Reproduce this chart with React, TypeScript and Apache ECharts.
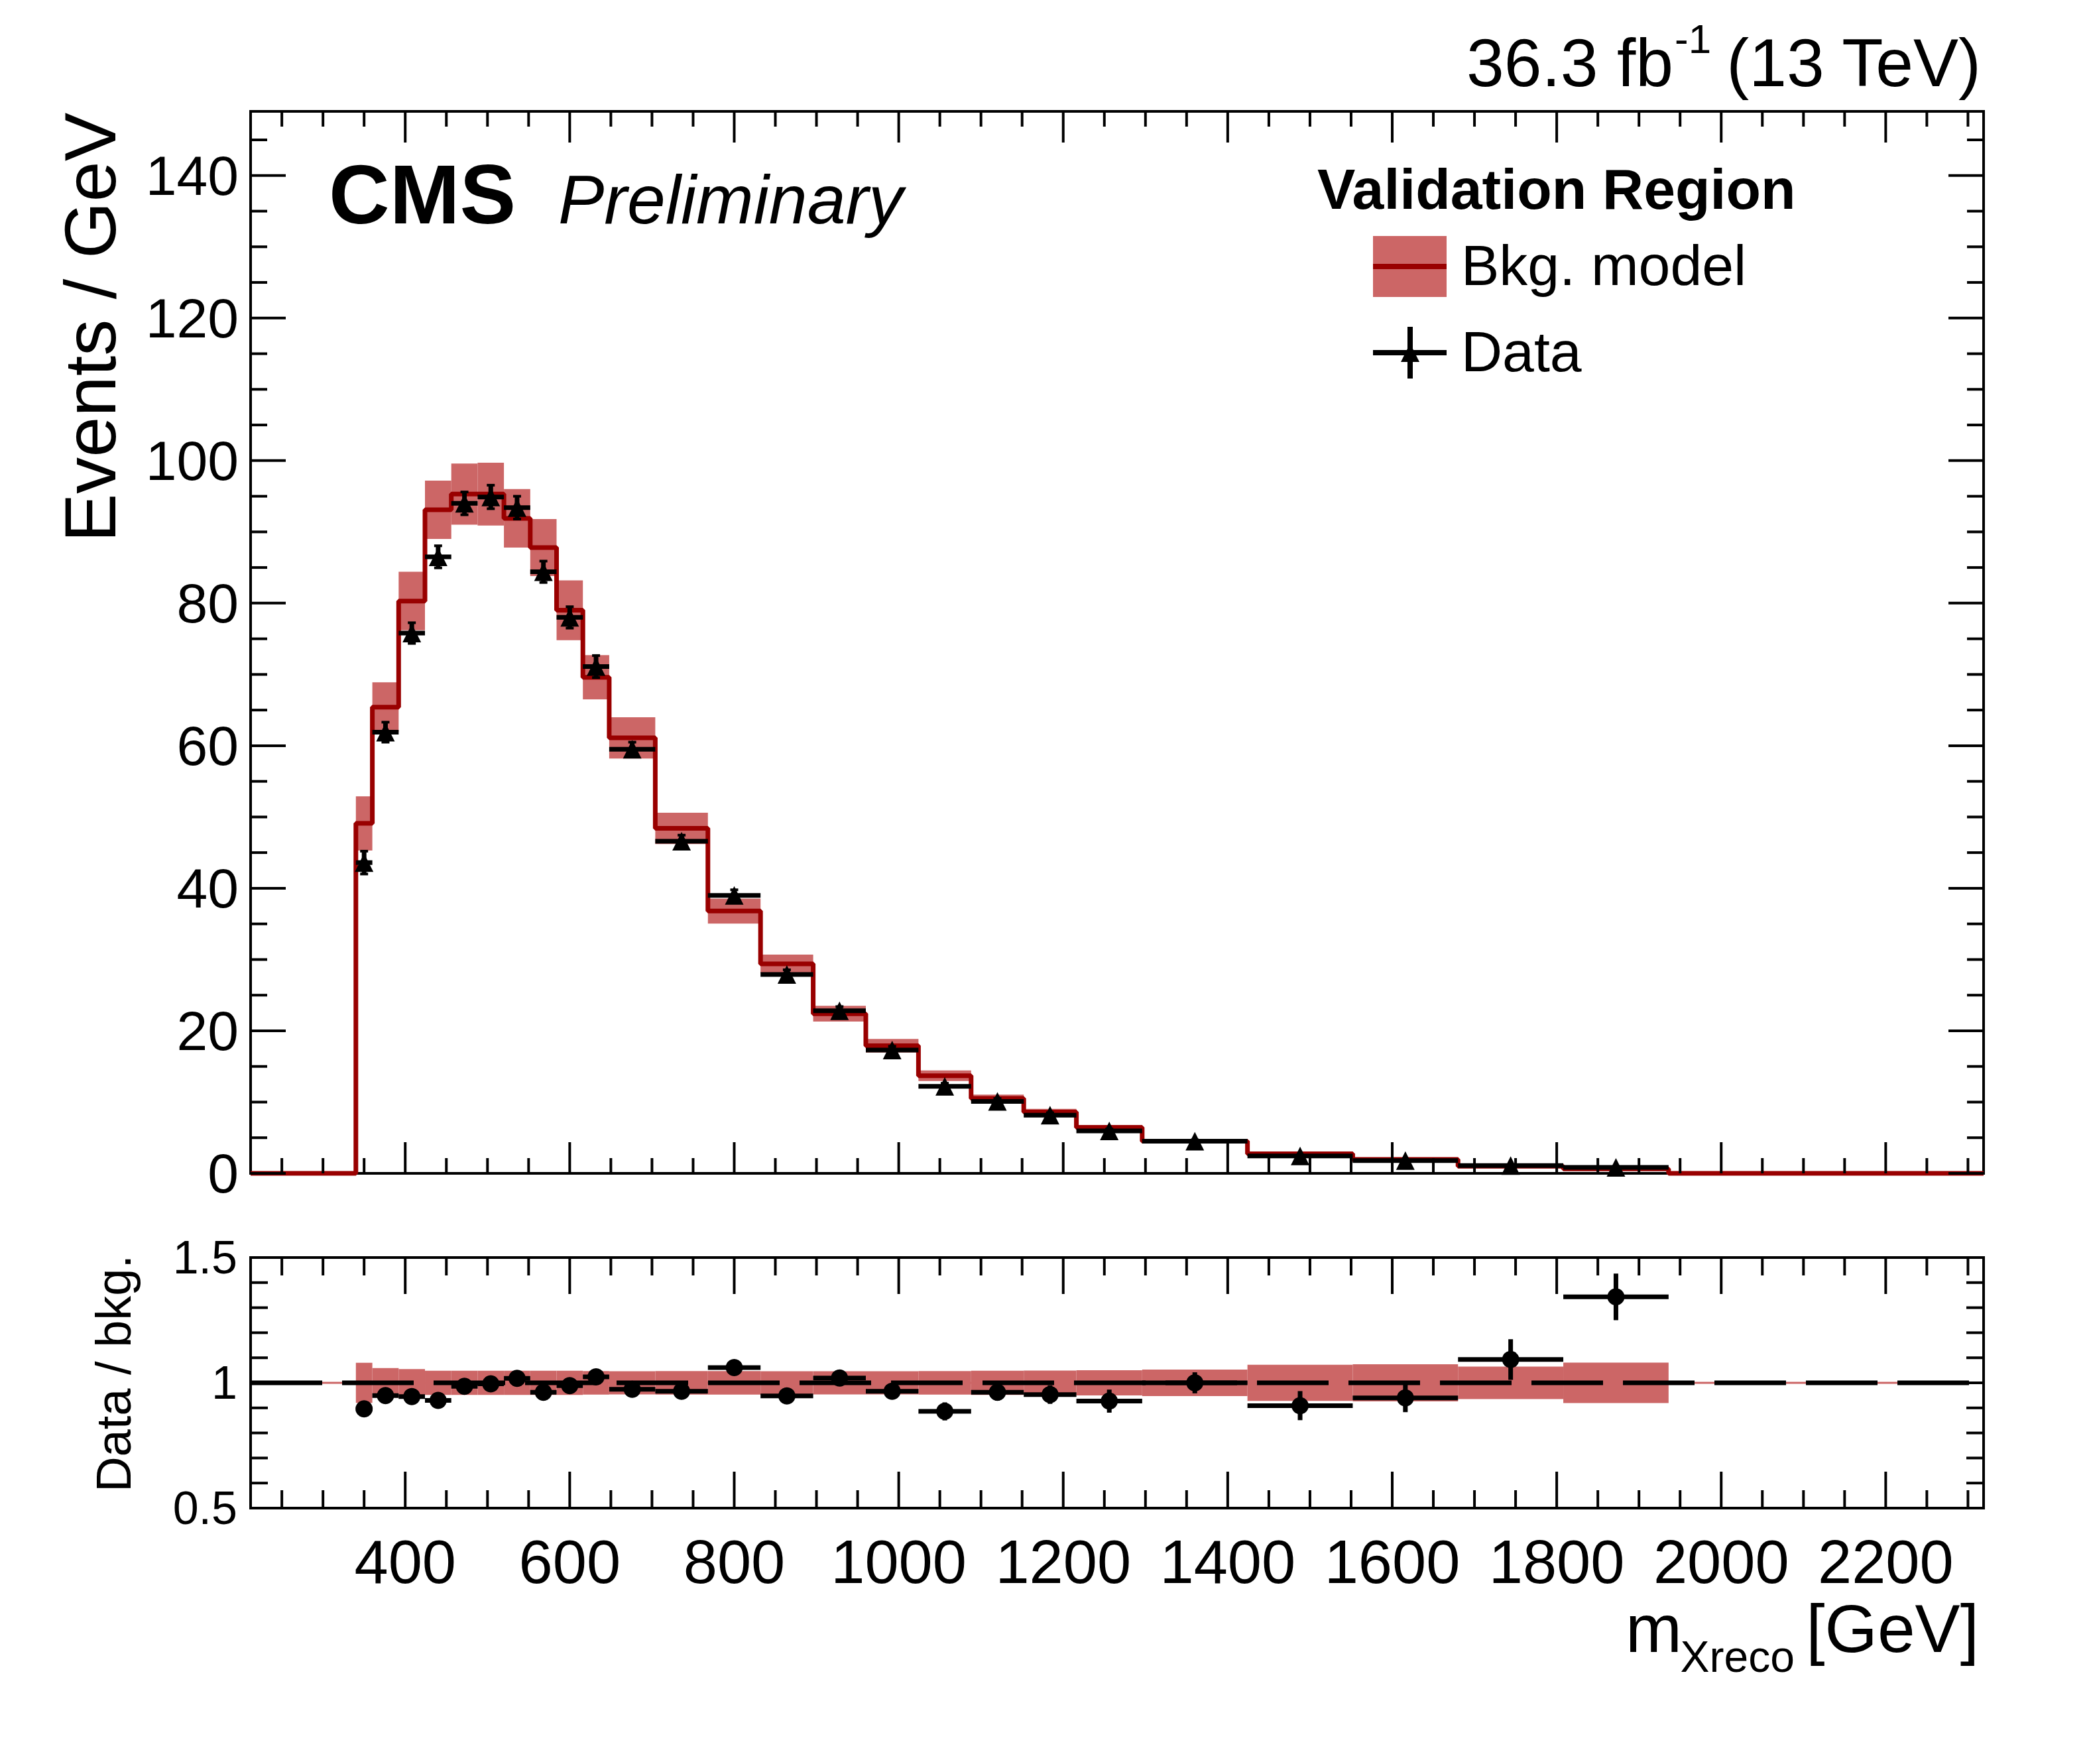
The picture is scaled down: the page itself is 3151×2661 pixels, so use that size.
import React, { useEffect, useRef } from 'react';
import * as echarts from 'echarts';

// bin edges of m_Xreco [GeV]
const binEdges = [340, 360, 392, 424, 456, 488, 520, 552, 584, 616, 648, 704, 768, 832, 896, 960, 1024, 1088, 1152, 1216, 1296, 1424, 1552, 1680, 1808, 1936];
// background model (events / GeV) and its uncertainty
const bkgModel = [49.1, 65.4, 80.3, 93.1, 95.3, 95.3, 91.9, 87.8, 79.0, 69.6, 61.1, 48.4, 36.8, 29.4, 22.4, 17.9, 13.7, 10.5, 8.6, 6.45, 4.5, 2.75, 1.95, 1.0, 0.62];
const bkgUnc = [3.8, 3.5, 4.1, 4.1, 4.3, 4.4, 4.1, 4.0, 4.2, 3.1, 2.9, 2.2, 1.75, 1.3, 1.1, 0.95, 0.75, 0.55, 0.45, 0.33, 0.24, 0.19, 0.14, 0.07, 0.05];
// data (events / GeV) and stat. errors
const dataValues = [43.6, 61.9, 75.8, 86.5, 94.0, 94.9, 93.4, 84.4, 78.0, 71.1, 59.5, 46.6, 39.0, 27.9, 22.8, 17.3, 12.2, 10.1, 8.15, 5.95, 4.5, 2.45, 1.8, 1.1, 0.83];
const dataErrors = [1.6, 1.4, 1.45, 1.55, 1.6, 1.65, 1.6, 1.5, 1.5, 1.55, 1.0, 0.85, 0.78, 0.66, 0.6, 0.52, 0.44, 0.4, 0.36, 0.27, 0.19, 0.14, 0.12, 0.09, 0.08];
// ratio panel
const ratioValues = [0.896, 0.949, 0.945, 0.93, 0.986, 0.996, 1.018, 0.962, 0.989, 1.024, 0.974, 0.966, 1.061, 0.948, 1.019, 0.966, 0.886, 0.962, 0.953, 0.927, 1.0, 0.909, 0.94, 1.093, 1.343];
const ratioErrors = [0.03, 0.022, 0.02, 0.018, 0.018, 0.018, 0.018, 0.018, 0.019, 0.021, 0.017, 0.018, 0.021, 0.024, 0.026, 0.03, 0.036, 0.033, 0.037, 0.046, 0.042, 0.058, 0.057, 0.081, 0.093];
const ratioUnc = [0.08, 0.059, 0.055, 0.048, 0.048, 0.048, 0.048, 0.048, 0.048, 0.047, 0.046, 0.047, 0.047, 0.046, 0.046, 0.046, 0.047, 0.048, 0.049, 0.05, 0.053, 0.072, 0.074, 0.065, 0.081];

// tick labels
const xTickLabels = [400, 600, 800, 1000, 1200, 1400, 1600, 1800, 2000, 2200];
const yTickLabels = [0, 20, 40, 60, 80, 100, 120, 140];
const ratioTickLabels = [0.5, 1, 1.5];

const X_MIN = 212;
const X_MAX = 2319;
const Y_MAX = 149;
const FONT = '"Liberation Sans", Arial, Helvetica, sans-serif';
const BAND = '#cc6666';
const LINE = '#990000';

const buildTicks = (majors: number[], start: number, end: number, step: number) => {
  const out: number[][] = majors.map((v) => [v, 1]);
  for (let v = start; v <= end + 1e-9; v += step) {
    const r = Math.round(v * 1000) / 1000;
    if (!majors.some((m) => Math.abs(m - r) < 1e-6)) out.push([r, 0]);
  }
  return out;
};

const txt = (text: string, x: number, y: number, size: number, align: string, extra: any = {}) => ({
  type: 'text',
  x,
  y,
  rotation: extra.rotation || 0,
  silent: true,
  style: {
    text,
    fill: '#000',
    fontSize: size,
    fontFamily: FONT,
    fontWeight: extra.weight || 'normal',
    fontStyle: extra.style || 'normal',
    align,
    textAlign: align,
    verticalAlign: 'middle',
    textVerticalAlign: 'middle',
  },
});

type TickCfg = {
  axis: 'x' | 'y';
  majorLen: number;
  minorLen: number;
  labels: number[];
  fontSize: number;
  labelOffset: number;
};

const tickSeries = (gridIndex: number, ticks: number[][], cfg: TickCfg) => ({
  type: 'custom',
  xAxisIndex: gridIndex,
  yAxisIndex: gridIndex,
  z: 10,
  silent: true,
  clip: false,
  encode: cfg.axis === 'x' ? { x: 0, y: 1 } : { y: 0, x: 1 },
  data: ticks,
  renderItem: (params: any, api: any) => {
    const cs = params.coordSys;
    const v = api.value(0);
    const major = api.value(1) === 1;
    const len = major ? cfg.majorLen : cfg.minorLen;
    const st = { stroke: '#000', lineWidth: 4 };
    const children: any[] = [];
    if (cfg.axis === 'x') {
      const px = api.coord([v, 1])[0];
      const bottom = cs.y + cs.height;
      children.push({ type: 'line', shape: { x1: px, y1: bottom, x2: px, y2: bottom - len }, style: st });
      children.push({ type: 'line', shape: { x1: px, y1: cs.y, x2: px, y2: cs.y + len }, style: st });
      if (major && cfg.labels.includes(v)) {
        children.push(txt(String(v), px, bottom + cfg.labelOffset, cfg.fontSize, 'center'));
      }
    } else {
      const py = api.coord([1000, v])[1];
      const right = cs.x + cs.width;
      children.push({ type: 'line', shape: { x1: cs.x, y1: py, x2: cs.x + len, y2: py }, style: st });
      children.push({ type: 'line', shape: { x1: right, y1: py, x2: right - len, y2: py }, style: st });
      if (major && cfg.labels.includes(v)) {
        children.push(txt(String(v), cs.x - cfg.labelOffset, py, cfg.fontSize, 'right'));
      }
    }
    return { type: 'group', children };
  },
});

const renderBand = (_params: any, api: any) => {
  const p0 = api.coord([api.value(0), api.value(3)]);
  const p1 = api.coord([api.value(1), api.value(2)]);
  return {
    type: 'rect',
    shape: { x: p0[0], y: p0[1], width: p1[0] - p0[0], height: p1[1] - p0[1] },
    style: { fill: BAND },
  };
};

const renderPoints = (marker: 'triangle' | 'circle') => (_params: any, api: any) => {
  const lo = api.value(0);
  const hi = api.value(1);
  const v = api.value(2);
  const e = api.value(3);
  const c = (lo + hi) / 2;
  const [xl, y] = api.coord([lo, v]);
  const [xh] = api.coord([hi, v]);
  const [xc, yTop] = api.coord([c, v + e]);
  const yBot = api.coord([c, v - e])[1];
  const st = { stroke: '#000', lineWidth: 7 };
  const children: any[] = [
    { type: 'line', shape: { x1: xl, y1: y, x2: xh, y2: y }, style: st },
    { type: 'line', shape: { x1: xc, y1: yTop, x2: xc, y2: yBot }, style: st },
  ];
  if (marker === 'triangle') {
    const cap = { stroke: '#000', lineWidth: 4 };
    children.push({ type: 'line', shape: { x1: xc - 6, y1: yTop, x2: xc + 6, y2: yTop }, style: cap });
    children.push({ type: 'line', shape: { x1: xc - 6, y1: yBot, x2: xc + 6, y2: yBot }, style: cap });
    children.push({
      type: 'polygon',
      shape: { points: [[xc - 14, y + 14], [xc + 14, y + 14], [xc, y - 14]] },
      style: { fill: '#000' },
    });
  } else {
    children.push({ type: 'circle', shape: { cx: xc, cy: y, r: 13 }, style: { fill: '#000' } });
  }
  return { type: 'group', children };
};

const App: React.FC = () => {
  const chartRef = useRef<HTMLDivElement>(null);

  useEffect(() => {
    const chart = echarts.init(chartRef.current as HTMLDivElement, undefined, { renderer: 'svg' });

    const bandData = bkgModel.map((b, i) => [binEdges[i], binEdges[i + 1], b - bkgUnc[i], b + bkgUnc[i]]);
    const stepData = [
      [X_MIN, 0],
      ...bkgModel.map((b, i) => [binEdges[i], b]),
      [binEdges[binEdges.length - 1], 0],
      [X_MAX, 0],
    ];
    const pointData = dataValues.map((d, i) => [binEdges[i], binEdges[i + 1], d, dataErrors[i]]);
    const ratioBandData = ratioUnc.map((u, i) => [binEdges[i], binEdges[i + 1], 1 - u, 1 + u]);
    const ratioPointData = ratioValues.map((r, i) => [binEdges[i], binEdges[i + 1], r, ratioErrors[i]]);

    const xTicks = buildTicks(xTickLabels, 250, 2300, 50);
    const yTicks = buildTicks(yTickLabels, 5, 145, 5);
    const rTicks = buildTicks(ratioTickLabels, 0.6, 1.4, 0.1);

    const option: any = {
      animation: false,
      backgroundColor: '#fff',
      textStyle: { fontFamily: FONT },
      grid: [
        { left: 378, top: 168, width: 2614, height: 1602, show: true, borderColor: '#000', borderWidth: 4, backgroundColor: 'transparent' },
        { left: 378, top: 1897, width: 2614, height: 378, show: true, borderColor: '#000', borderWidth: 4, backgroundColor: 'transparent' },
      ],
      xAxis: [
        { type: 'value', gridIndex: 0, min: X_MIN, max: X_MAX, show: false },
        { type: 'value', gridIndex: 1, min: X_MIN, max: X_MAX, show: false },
      ],
      yAxis: [
        { type: 'value', gridIndex: 0, min: 0, max: Y_MAX, show: false },
        { type: 'value', gridIndex: 1, min: 0.5, max: 1.5, show: false },
      ],
      series: [
        {
          name: 'Bkg. model uncertainty',
          type: 'custom',
          xAxisIndex: 0,
          yAxisIndex: 0,
          z: 2,
          silent: true,
          encode: { x: [0, 1], y: [2, 3] },
          data: bandData,
          renderItem: renderBand,
        },
        {
          name: 'Bkg. model',
          type: 'line',
          xAxisIndex: 0,
          yAxisIndex: 0,
          step: 'end',
          symbol: 'none',
          clip: false,
          z: 3,
          silent: true,
          lineStyle: { color: LINE, width: 7 },
          data: stepData,
        },
        {
          name: 'Data',
          type: 'custom',
          xAxisIndex: 0,
          yAxisIndex: 0,
          z: 5,
          silent: true,
          encode: { x: [0, 1], y: 2 },
          data: pointData,
          renderItem: renderPoints('triangle'),
        },
        {
          name: 'Ratio uncertainty',
          type: 'custom',
          xAxisIndex: 1,
          yAxisIndex: 1,
          z: 2,
          silent: true,
          encode: { x: [0, 1], y: [2, 3] },
          data: ratioBandData,
          renderItem: renderBand,
        },
        {
          name: 'Ratio band line',
          type: 'line',
          xAxisIndex: 1,
          yAxisIndex: 1,
          symbol: 'none',
          z: 3,
          silent: true,
          lineStyle: { color: BAND, width: 3 },
          data: [[X_MIN, 1], [X_MAX, 1]],
        },
        {
          name: 'Unity',
          type: 'line',
          xAxisIndex: 1,
          yAxisIndex: 1,
          symbol: 'none',
          z: 4,
          silent: true,
          lineStyle: { color: '#000', width: 7, type: [108, 30] },
          data: [[X_MIN, 1], [X_MAX, 1]],
        },
        {
          name: 'Data / bkg.',
          type: 'custom',
          xAxisIndex: 1,
          yAxisIndex: 1,
          z: 5,
          silent: true,
          encode: { x: [0, 1], y: 2 },
          data: ratioPointData,
          renderItem: renderPoints('circle'),
        },
        tickSeries(0, xTicks, { axis: 'x', majorLen: 47, minorLen: 23, labels: [], fontSize: 92, labelOffset: 0 }),
        tickSeries(0, yTicks, { axis: 'y', majorLen: 53, minorLen: 25, labels: yTickLabels, fontSize: 84, labelOffset: 18 }),
        tickSeries(1, xTicks, { axis: 'x', majorLen: 55, minorLen: 27, labels: xTickLabels, fontSize: 92, labelOffset: 81 }),
        tickSeries(1, rTicks, { axis: 'y', majorLen: 26, minorLen: 26, labels: ratioTickLabels, fontSize: 70, labelOffset: 20 }),
      ],
      graphic: [
        // CMS label
        txt('CMS', 496, 293, 127, 'left', { weight: 'bold' }),
        txt('Preliminary', 842, 301, 104, 'left', { style: 'italic' }),
        // luminosity
        txt('36.3 fb', 2524, 95, 102, 'right'),
        txt('-1', 2526, 58, 62, 'left'),
        txt('(13 TeV)', 2988, 95, 102, 'right'),
        // legend
        txt('Validation Region', 1987, 285, 86, 'left', { weight: 'bold' }),
        { type: 'rect', silent: true, shape: { x: 2071, y: 356, width: 111, height: 92 }, style: { fill: BAND } },
        { type: 'line', silent: true, shape: { x1: 2071, y1: 402, x2: 2182, y2: 402 }, style: { stroke: LINE, lineWidth: 8 } },
        txt('Bkg. model', 2204, 400, 86, 'left'),
        { type: 'line', silent: true, shape: { x1: 2071, y1: 532, x2: 2182, y2: 532 }, style: { stroke: '#000', lineWidth: 8 } },
        { type: 'line', silent: true, shape: { x1: 2127, y1: 493, x2: 2127, y2: 571 }, style: { stroke: '#000', lineWidth: 8 } },
        { type: 'polygon', silent: true, shape: { points: [[2113, 546], [2141, 546], [2127, 518]] }, style: { fill: '#000' } },
        txt('Data', 2204, 530, 86, 'left'),
        // axis titles
        txt('Events / GeV', 135, 170, 110, 'right', { rotation: Math.PI / 2 }),
        txt('Data / bkg.', 171, 1893, 74, 'right', { rotation: Math.PI / 2 }),
        txt('m', 2537, 2457, 102, 'right'),
        txt('Xreco', 2707, 2499, 66, 'right'),
        txt('[GeV]', 2985, 2457, 102, 'right'),
      ],
    };

    chart.setOption(option);
    return () => {
      chart.dispose();
    };
  }, []);

  return (
    <div
      ref={chartRef}
      style={{ position: 'absolute', left: 0, top: 0, width: '3151px', height: '2661px', background: '#fff' }}
    />
  );
};

export default App;
